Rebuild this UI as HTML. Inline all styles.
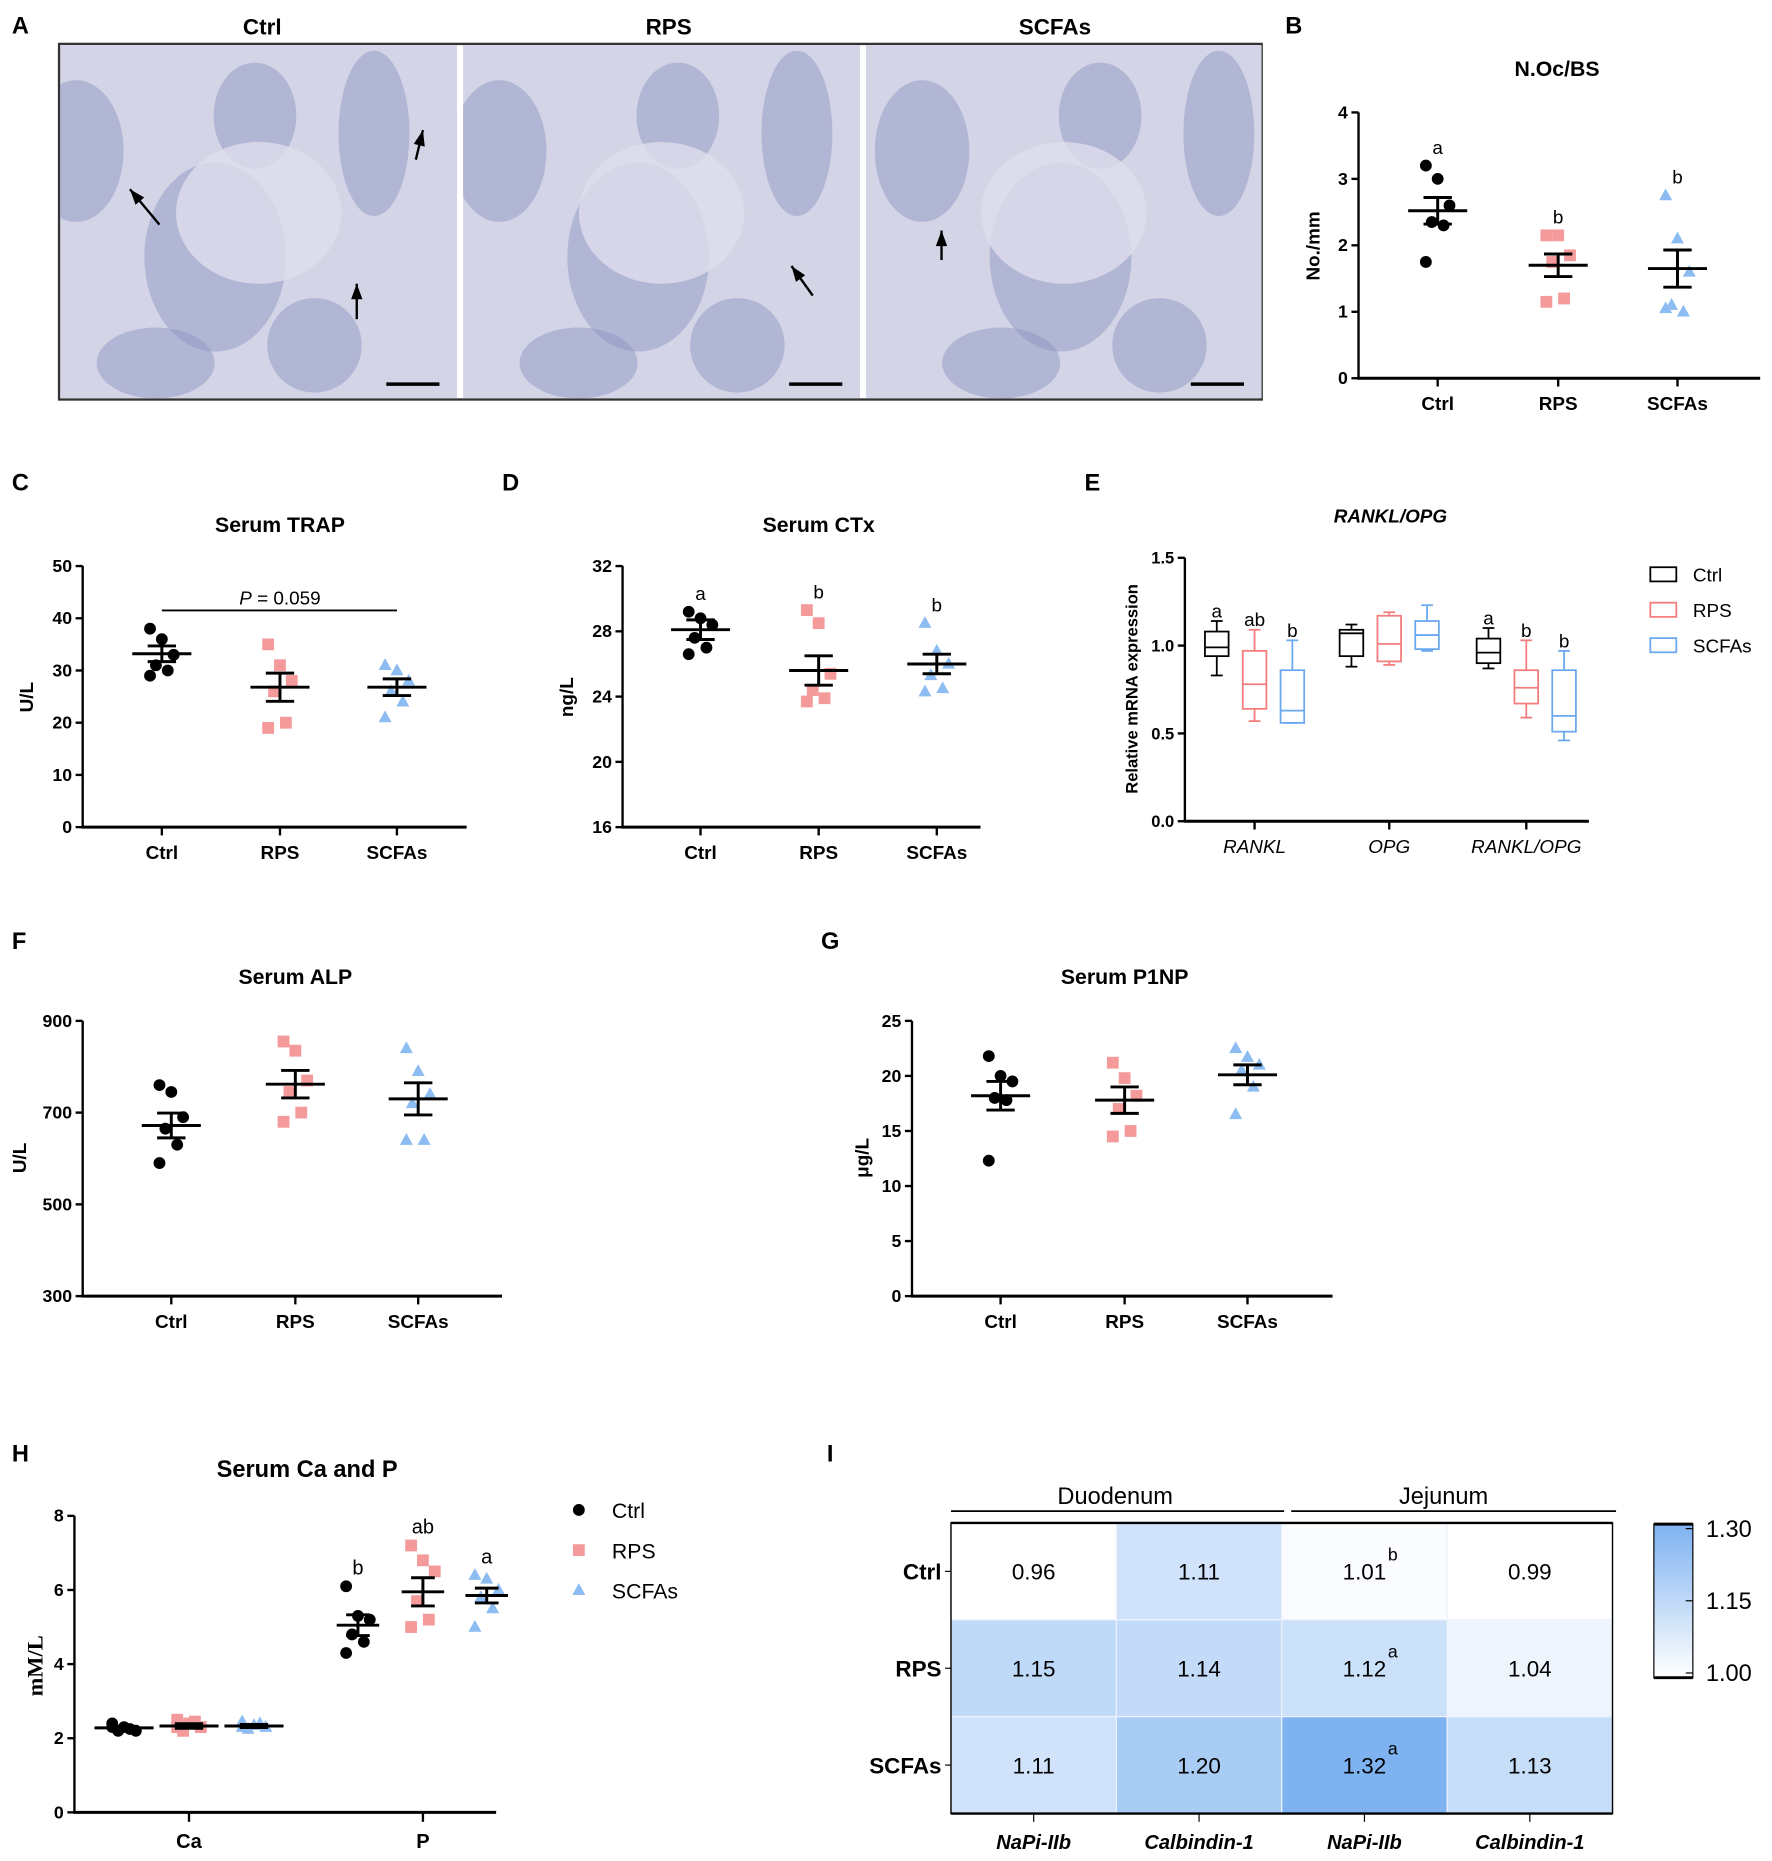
<!DOCTYPE html>
<html><head><meta charset="utf-8"><style>
html,body{margin:0;padding:0;background:#fff}
svg{display:block}
text{font-family:"Liberation Sans",sans-serif}
</style></head><body>
<svg id="fig" xmlns="http://www.w3.org/2000/svg" width="1772" height="1861" viewBox="0 0 1500 1575">
<g id="histo"></g>
<g id="charts"></g>
</svg>
<script>
// ---- data ----
const groups = ["Ctrl","RPS","SCFAs"];
const colors = ["#000000","#f59a9a","#8cbcf2"];
const bVals = [[3.2,3.0,2.6,2.35,2.3,1.75],[2.15,2.15,1.85,1.75,1.2,1.15],[2.75,2.1,1.6,1.1,1.0,1.05]];
const bMean = [2.52,1.7,1.65]; const bSem = [0.2,0.17,0.28]; const bLet=["a","b","b"];
const cVals = [[38,36,33,31,30,29],[35,31,28,26,20,19],[31,30,28,26,24,21]];
const cMean = [33.2,26.8,26.8]; const cSem=[1.5,2.7,1.6];
const dVals = [[29.2,28.8,28.4,27.6,27.0,26.6],[29.3,28.5,25.4,24.4,23.9,23.7],[28.5,26.8,26.0,25.3,24.5,24.3]];
const dMean=[28.1,25.6,26.0]; const dSem=[0.6,0.9,0.6]; const dLet=["a","b","b"];
const fVals=[[760,745,690,665,630,590],[855,835,770,745,700,680],[840,790,740,720,640,640]];
const fMean=[672,762,730]; const fSem=[27,30,35];
const gVals=[[21.8,20.0,19.5,18.0,17.8,12.3],[21.2,19.8,18.2,17.0,15.0,14.5],[22.5,21.7,21.0,20.5,19.0,16.5]];
const gMean=[18.2,17.8,20.1]; const gSem=[1.3,1.2,0.9];
const hCaVals=[[2.4,2.3,2.2,2.2,2.25,2.3],[2.5,2.4,2.3,2.2,2.45,2.3],[2.45,2.35,2.3,2.25,2.4,2.3]];
const hCaMean=[2.28,2.33,2.33]; const hCaSem=[0.04,0.06,0.04];
const hPVals=[[6.1,5.3,5.2,4.8,4.6,4.3],[7.2,6.8,6.5,5.7,5.2,5.0],[6.4,6.3,6.0,5.8,5.5,5.0]];
const hPMean=[5.05,5.95,5.85]; const hPSem=[0.28,0.38,0.2]; const hLet=["b","ab","a"];
const eCats=["RANKL","OPG","RANKL/OPG"];
const eBoxes=[ // [min,q1,med,q3,max]
 [[0.83,0.94,0.99,1.08,1.14],[0.57,0.64,0.78,0.97,1.09],[0.56,0.56,0.63,0.86,1.03]],
 [[0.88,0.94,1.07,1.09,1.12],[0.89,0.91,1.01,1.17,1.19],[0.97,0.98,1.06,1.14,1.23]],
 [[0.87,0.90,0.96,1.04,1.10],[0.59,0.67,0.76,0.86,1.03],[0.46,0.51,0.60,0.86,0.97]]];
const eLet=[["a","ab","b"],["","",""],["a","b","b"]];
const hmRows=["Ctrl","RPS","SCFAs"];
const hmCols=["NaPi-IIb","Calbindin-1","NaPi-IIb","Calbindin-1"];
const hmVals=[[0.96,1.11,1.01,0.99],[1.15,1.14,1.12,1.04],[1.11,1.20,1.32,1.13]];
const hmSup=[["","","b",""],["","","a",""],["","","a",""]];
const cbTicks=[1.00,1.15,1.30];

// ---- helpers ----
const NS="http://www.w3.org/2000/svg";
const root=document.getElementById('charts');
function mk(tag,attrs,parent,txt){const e=document.createElementNS(NS,tag);for(const k in attrs)e.setAttribute(k,attrs[k]);if(txt!==undefined)e.textContent=txt;(parent||root).appendChild(e);return e;}
function T(x,y,s,o,p){o=o||{};const e=mk('text',Object.assign({x:x,y:y,'font-size':o.fs||16,'font-weight':o.fw||'bold','text-anchor':o.a||'middle',fill:o.fill||'#000'},o.extra||{}),p,s);return e;}
function marker(g,shape,x,y,c){let e;
 if(shape===0)e=mk('circle',{cx:x,cy:y,r:5,fill:c},g);
 else if(shape===1)e=mk('rect',{x:x-5,y:y-5,width:10,height:10,fill:c},g);
 else e=mk('polygon',{points:`${x},${y-6} ${x+5.5},${y+4} ${x-5.5},${y+4}`,fill:c},g);
 }
function axis(g,o){
 const sy=v=>o.yb-(v-o.min)/(o.max-o.min)*(o.yb-o.yt);
 let a=mk('line',{x1:o.x0,y1:o.yt,x2:o.x0,y2:o.yb,stroke:'#000','stroke-width':2},g);
 a=mk('line',{x1:o.x0-1,y1:o.yb,x2:o.x1,y2:o.yb,stroke:'#000','stroke-width':2.5},g);
 o.ticks.forEach(t=>{mk('line',{x1:o.x0-6,y1:sy(t),x2:o.x0,y2:sy(t),stroke:'#000','stroke-width':2},g);T(o.x0-9,sy(t)+5,o.tf?o.tf(t):String(t),{a:'end',fs:o.tfs||15,name:'y-tick-label'},g);});
 return sy;}
function dot(name,o,valsArr,means,sems,xs,letters,cats){
 const g=mk('g',{});
 const sy=axis(g,o);
 if(cats)cats.forEach((c,i)=>{mk('line',{x1:xs[i],y1:o.yb,x2:xs[i],y2:o.yb+7,stroke:'#000','stroke-width':2},g);T(xs[i],o.yb+27,c,{fs:16,name:'x-tick-label'},g);});
 valsArr.forEach((vals,i)=>{
  vals.forEach((v,j)=>{marker(g,i,xs[i]+((j*7)%5-2)*5,sy(v),colors[i]);});
  const m=sy(means[i]),hi=sy(means[i]+sems[i]),lo=sy(means[i]-sems[i]);
  mk('line',{x1:xs[i]-25,y1:m,x2:xs[i]+25,y2:m,stroke:'#000','stroke-width':2.5},g);
  mk('line',{x1:xs[i],y1:hi,x2:xs[i],y2:lo,stroke:'#000','stroke-width':2.5},g);
  mk('line',{x1:xs[i]-12,y1:hi,x2:xs[i]+12,y2:hi,stroke:'#000','stroke-width':2.5},g);
  mk('line',{x1:xs[i]-12,y1:lo,x2:xs[i]+12,y2:lo,stroke:'#000','stroke-width':2.5},g);
  if(letters&&letters[i]){const top=Math.max(...vals);T(xs[i],sy(top)-10,letters[i],{fs:16,fw:'normal',name:'significance-letter'},g);}
 });
 return {g,sy};}
function ylab(x,y,s,g,serif,fs){const t=T(0,0,s,{fs:fs||16,name:'y-axis-title',extra:{transform:`translate(${x},${y}) rotate(-90)`}},g);if(serif)t.setAttribute('style','font-family:"Liberation Serif",serif');return t;}
function plabel(x,y,s){T(x,y,s,{fs:20,a:'start',name:'panel-letter-'+s.toLowerCase()});}

// ---- panel A (histology approximation) ----
(function(){const h=document.getElementById('histo');
 mk('rect',{x:50,y:37,width:1018,height:301,fill:'#fff',stroke:'#333','stroke-width':2},h);
 const panels=[[51,336],[392,336],[733,335]];
 const titles=[[222,'Ctrl'],[566,'RPS'],[893,'SCFAs']];
 const cp=mk('defs',{},h);
 panels.forEach((p,i)=>{const c=mk('clipPath',{id:'cp'+i},cp);mk('rect',{x:p[0],y:38,width:p[1],height:299},c);});
 panels.forEach((p,i)=>{const g=mk('g',{'clip-path':`url(#cp${i})`},h);
  mk('rect',{x:p[0],y:38,width:p[1],height:299,fill:'#d3d5e6'},g);
  const blobs=[[0.1,0.3,40,60],[0.45,0.6,60,80],[0.85,0.25,30,70],[0.3,0.9,50,30],[0.7,0.85,40,40],[0.55,0.2,35,45]];
  blobs.forEach((b)=>{mk('ellipse',{cx:p[0]+b[0]*p[1]+i*17%40-20,cy:38+b[1]*299,rx:b[2],ry:b[3],fill:'#8a90c2',opacity:0.45},g);});
  mk('ellipse',{cx:p[0]+p[1]*0.5,cy:180,rx:70,ry:60,fill:'#dedeec',opacity:0.8},g);
  mk('line',{x1:p[0]+p[1]-60,y1:325,x2:p[0]+p[1]-15,y2:325,stroke:'#000','stroke-width':3},g);
 });
 titles.forEach(t=>T(t[0],29,t[1],{fs:19,name:'histology-title'}));
 [[110,160,135,190],[358,110,352,135],[302,240,302,270],[670,225,688,250],[797,195,797,220]].forEach(a=>{
  const g=mk('g',{},h);
  mk('line',{x1:a[0],y1:a[1],x2:a[2],y2:a[3],stroke:'#000','stroke-width':2},g);
  const ang=Math.atan2(a[1]-a[3],a[0]-a[2]);const hx=a[0],hy=a[1];
  mk('polygon',{points:`${hx},${hy} ${hx-14*Math.cos(ang-0.35)},${hy-14*Math.sin(ang-0.35)} ${hx-14*Math.cos(ang+0.35)},${hy-14*Math.sin(ang+0.35)}`,fill:'#000'},g);});
 plabel(10,28,'A');
})();

// ---- B ----
plabel(1088,28,'B');
T(1318,64,'N.Oc/BS',{fs:18,name:'chart-title'});
{const r=dot('chart-b',{x0:1150,yb:320,yt:95,x1:1490,min:0,max:4,ticks:[0,1,2,3,4]},bVals,bMean,bSem,[1217,1319,1420],bLet,groups);ylab(1117,208,'No./mm',r.g);}
// ---- C ----
plabel(10,415,'C');
T(237,450,'Serum TRAP',{fs:18,name:'chart-title'});
{const o={x0:70,yb:700,yt:479,x1:395,min:0,max:50,ticks:[0,10,20,30,40,50]};const r=dot('chart-c',o,cVals,cMean,cSem,[137,237,336],null,groups);ylab(28,590,'U/L',r.g);
 mk('line',{x1:137,y1:r.sy(41.5),x2:336,y2:r.sy(41.5),stroke:'#000','stroke-width':1.5},r.g);
 const t=T(237,r.sy(41.5)-5,'',{fs:16,fw:'normal',name:'p-value'},r.g);t.innerHTML='<tspan font-style="italic">P</tspan> = 0.059';}
// ---- D ----
plabel(425,415,'D');
T(693,450,'Serum CTx',{fs:18,name:'chart-title'});
{const r=dot('chart-d',{x0:527,yb:700,yt:479,x1:830,min:16,max:32,ticks:[16,20,24,28,32]},dVals,dMean,dSem,[593,693,793],dLet,groups);ylab(485,590,'ng/L',r.g);}
// ---- E box ----
plabel(918,415,'E');
T(1177,442,'RANKL/OPG',{fs:16,name:'chart-title',extra:{'font-style':'italic'}});
{const g=mk('g',{});
 const o={x0:1003,yb:695,yt:472,x1:1345,min:0,max:1.5,ticks:[0,0.5,1,1.5],tf:t=>t.toFixed(1),tfs:14};
 const sy=axis(g,o);ylab(963,583,'Relative mRNA expression',g,false,14);
 const centers=[1062,1176,1292];const offs=[-32,0,32];
 eCats.forEach((c,ci)=>{mk('line',{x1:centers[ci],y1:o.yb,x2:centers[ci],y2:o.yb+7,stroke:'#000','stroke-width':2},g);
  T(centers[ci],o.yb+27,c,{fs:16,fw:'normal',name:'x-tick-label',extra:{'font-style':'italic'}},g);
  eBoxes[ci].forEach((b,gi)=>{const x=centers[ci]+offs[gi],col=gi==0?'#000':(gi==1?'#f47c7c':'#6aa8f0');
   const bg=mk('g',{},g);
   mk('line',{x1:x,y1:sy(b[0]),x2:x,y2:sy(b[4]),stroke:col,'stroke-width':1.5},bg);
   mk('line',{x1:x-5,y1:sy(b[0]),x2:x+5,y2:sy(b[0]),stroke:col,'stroke-width':1.5},bg);
   mk('line',{x1:x-5,y1:sy(b[4]),x2:x+5,y2:sy(b[4]),stroke:col,'stroke-width':1.5},bg);
   mk('rect',{x:x-10,y:sy(b[3]),width:20,height:sy(b[1])-sy(b[3]),fill:'#fff',stroke:col,'stroke-width':1.5},bg);
   mk('line',{x1:x-10,y1:sy(b[2]),x2:x+10,y2:sy(b[2]),stroke:col,'stroke-width':1.5},bg);
   if(eLet[ci][gi])T(x,sy(b[4])-3,eLet[ci][gi],{fs:16,fw:'normal',name:'significance-letter'},bg);});});
 const lc=['#000','#f47c7c','#6aa8f0'];
 groups.forEach((gname,i)=>{const y=486+i*30;const lg=mk('g',{},g);
  mk('rect',{x:1397,y:y-6,width:22,height:12,fill:'#fff',stroke:lc[i],'stroke-width':1.5},lg);T(1433,y+6,gname,{fs:16,fw:'normal',a:'start',name:'legend-label'},lg);});}
// ---- F ----
plabel(10,803,'F');
T(250,833,'Serum ALP',{fs:18,name:'chart-title'});
{const r=dot('chart-f',{x0:70,yb:1097,yt:864,x1:425,min:300,max:900,ticks:[300,500,700,900]},fVals,fMean,fSem,[145,250,354],null,groups);ylab(22,980,'U/L',r.g);}
// ---- G ----
plabel(695,803,'G');
T(952,833,'Serum P1NP',{fs:18,name:'chart-title'});
{const r=dot('chart-g',{x0:772,yb:1097,yt:864,x1:1128,min:0,max:25,ticks:[0,5,10,15,20,25]},gVals,gMean,gSem,[847,952,1056],null,groups);ylab(735,980,'μg/L',r.g);}
// ---- H ----
plabel(10,1237,'H');
T(260,1250,'Serum Ca and P',{fs:20,name:'chart-title'});
{const o={x0:63,yb:1534,yt:1283,x1:420,min:0,max:8,ticks:[0,2,4,6,8]};
 const r=dot('chart-h',o,hCaVals,hCaMean,hCaSem,[105,160,215],null,null);
 const g=r.g;const sy=r.sy;const xsP=[303,358,412];
 hPVals.forEach((vals,i)=>{vals.forEach((v,j)=>marker(g,i,xsP[i]+((j*7)%5-2)*5,sy(v),colors[i]));
  const m=sy(hPMean[i]),hi=sy(hPMean[i]+hPSem[i]),lo=sy(hPMean[i]-hPSem[i]);
  [[xsP[i]-18,m,xsP[i]+18,m],[xsP[i],hi,xsP[i],lo],[xsP[i]-10,hi,xsP[i]+10,hi],[xsP[i]-10,lo,xsP[i]+10,lo]].forEach(l=>mk('line',{x1:l[0],y1:l[1],x2:l[2],y2:l[3],stroke:'#000','stroke-width':2.5},g));
  T(xsP[i],sy(Math.max(...vals))-10,hLet[i],{fs:17,fw:'normal',name:'significance-letter'},g);});
 [[160,'Ca'],[358,'P']].forEach(c=>{mk('line',{x1:c[0],y1:o.yb,x2:c[0],y2:o.yb+8,stroke:'#000','stroke-width':2},g);T(c[0],o.yb+30,c[1],{fs:17,name:'x-tick-label'},g);});
 ylab(36,1410,'mM/L',g,true,19);
 groups.forEach((gname,i)=>{const y=1278+i*34;const lg=mk('g',{},g);
  marker(lg,i,490,y,colors[i]);T(518,y+7,gname,{fs:18,fw:'normal',a:'start',name:'legend-label'},lg);});}
// ---- I heatmap ----
plabel(700,1237,'I');
{const g=mk('g',{});
 const x0=805,y0=1289,cw=140,rh=82,vmin=1.0,vmax=1.30;
 const col=v=>{let t=Math.max(0,Math.min(1,(v-vmin)/(vmax-vmin)));const lo=[255,255,255],hi=[126,178,240];return `rgb(${lo.map((c,k)=>Math.round(c+(hi[k]-c)*t)).join(',')})`;};
 hmVals.forEach((row,r)=>row.forEach((v,c)=>{const cg=mk('g',{},g);
  mk('rect',{x:x0+c*cw,y:y0+r*rh,width:cw,height:rh,fill:col(v),stroke:'#eef3fb','stroke-width':1},cg);
  T(x0+c*cw+cw/2,y0+r*rh+rh/2+7,v.toFixed(2),{fs:19,fw:'normal',name:'cell-value'},cg);
  if(hmSup[r][c])T(x0+c*cw+cw/2+24,y0+r*rh+rh/2-9,hmSup[r][c],{fs:15,fw:'normal',name:'cell-superscript'},cg);}));
 mk('rect',{x:x0,y:y0,width:cw*4,height:rh*3,fill:'none',stroke:'#000','stroke-width':1.2},g);
 mk('line',{x1:x0,y1:y0,x2:x0+cw*4,y2:y0,stroke:'#000','stroke-width':2},g);
 mk('line',{x1:x0,y1:y0+rh*3,x2:x0+cw*4,y2:y0+rh*3,stroke:'#000','stroke-width':2},g);
 hmRows.forEach((r,i)=>{mk('line',{x1:x0-5,y1:y0+i*rh+rh/2,x2:x0,y2:y0+i*rh+rh/2,stroke:'#000'},g);T(x0-8,y0+i*rh+rh/2+7,r,{fs:19,a:'end',name:'row-label'},g);});
 hmCols.forEach((c,i)=>{mk('line',{x1:x0+i*cw+cw/2,y1:y0+rh*3,x2:x0+i*cw+cw/2,y2:y0+rh*3+7,stroke:'#000'},g);T(x0+i*cw+cw/2,1565,c,{fs:17,name:'column-label',extra:{'font-style':'italic'}},g);});
 mk('line',{x1:805,y1:1279,x2:1087,y2:1279,stroke:'#000','stroke-width':1.5},g);
 mk('line',{x1:1093,y1:1279,x2:1368,y2:1279,stroke:'#000','stroke-width':1.5},g);
 T(944,1273,'Duodenum',{fs:20,fw:'normal',name:'group-header'},g);T(1222,1273,'Jejunum',{fs:20,fw:'normal',name:'group-header'},g);
 const cb=mk('g',{},g);
 const df=mk('defs',{},cb);const lgd=mk('linearGradient',{id:'cbg',x1:0,y1:1,x2:0,y2:0},df);
 mk('stop',{offset:0,'stop-color':col(vmin)},lgd);mk('stop',{offset:1,'stop-color':col(vmax)},lgd);
 const cbTop=1290,cbBot=1420,cy=v=>cbBot-(v-vmin)/(vmax-vmin)*(cbBot-cbTop)*0.94-4;
 mk('rect',{x:1400,y:cbTop,width:33,height:cbBot-cbTop,fill:'url(#cbg)',stroke:'#000','stroke-width':1},cb);
 mk('line',{x1:1400,y1:cbTop,x2:1433,y2:cbTop,stroke:'#000','stroke-width':2.5},cb);
 mk('line',{x1:1400,y1:cbBot,x2:1433,y2:cbBot,stroke:'#000','stroke-width':2.5},cb);
 cbTicks.forEach(t=>{mk('line',{x1:1427,y1:cy(t),x2:1433,y2:cy(t),stroke:'#000'},cb);T(1444,cy(t)+7,t.toFixed(2),{fs:20,fw:'normal',a:'start',name:'colorbar-tick'},cb);});}
</script>
</body></html>
